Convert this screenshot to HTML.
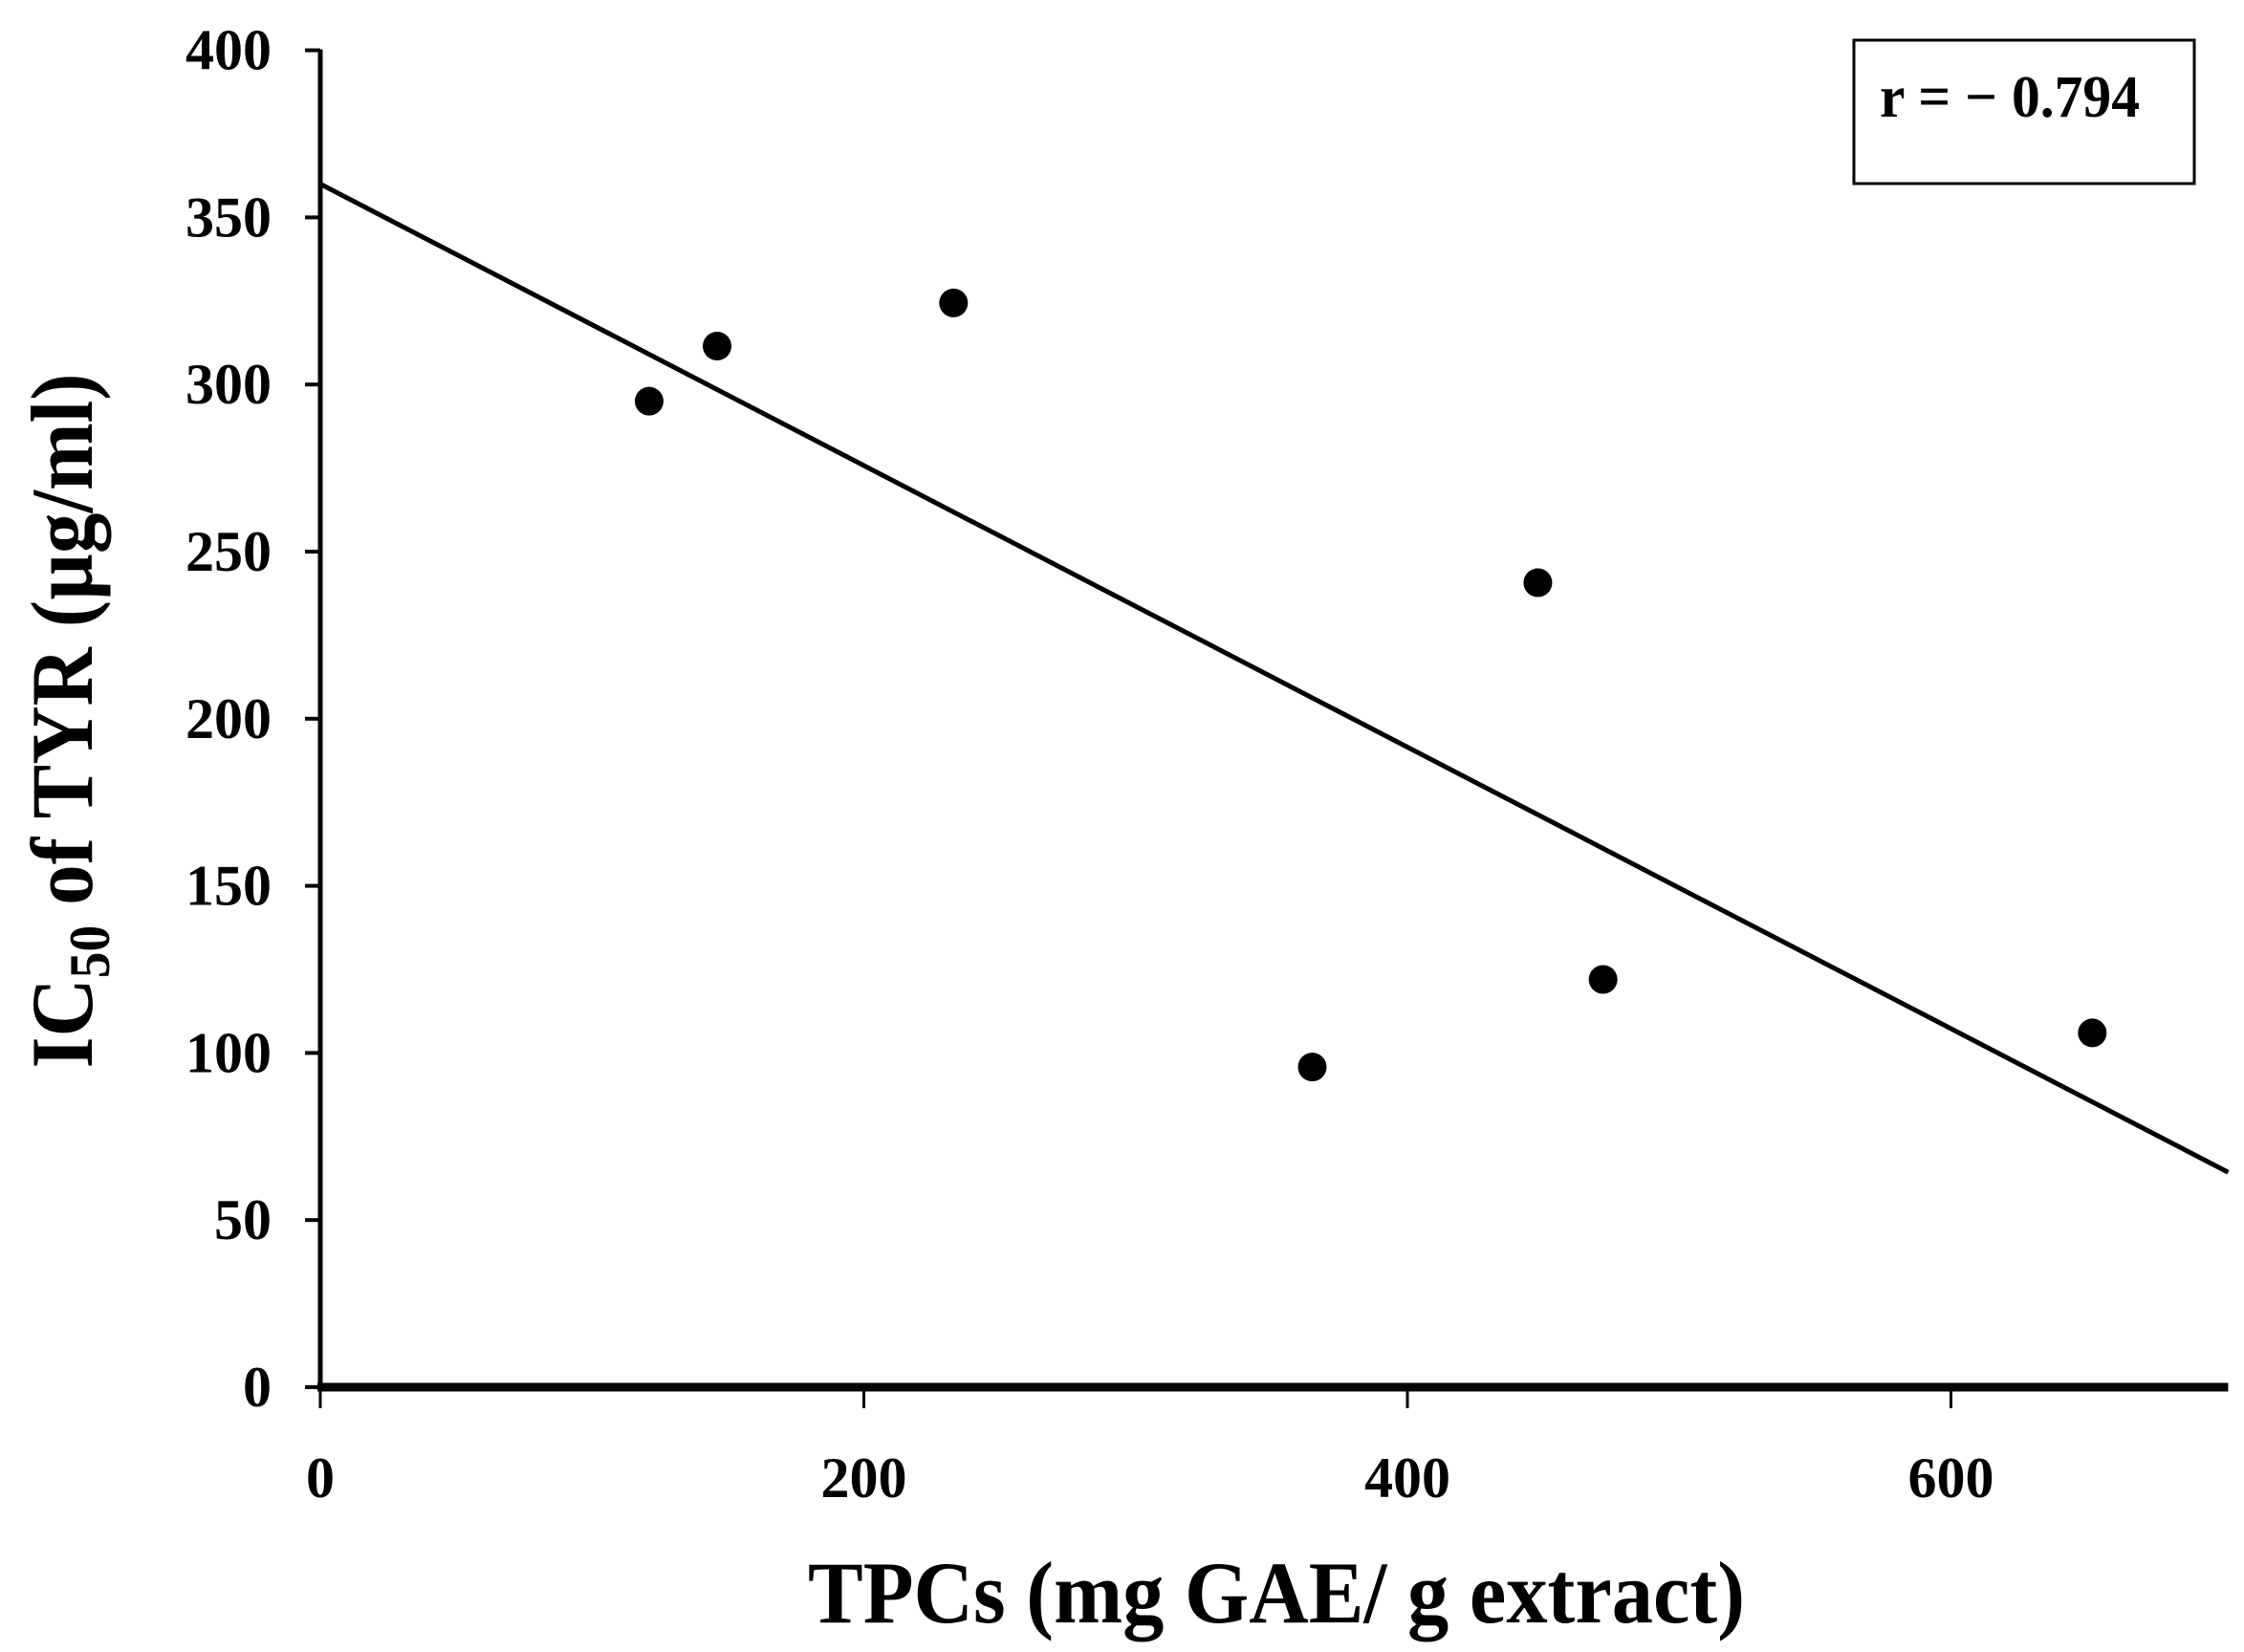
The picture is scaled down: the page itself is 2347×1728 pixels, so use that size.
<!DOCTYPE html>
<html><head><meta charset="utf-8"><style>html,body{margin:0;padding:0;background:#fff}svg{display:block}</style></head>
<body>
<svg id="chart" width="2347" height="1728" viewBox="0 0 2347 1728" xmlns="http://www.w3.org/2000/svg" font-family="'Liberation Serif', serif" font-weight="bold">
<g id="axes"></g>
<g id="marks"></g>
<g>
<rect x="1939" y="42" width="356" height="150" fill="#fff" stroke="#000" stroke-width="3"/>
<text x="1966" y="122" font-size="62" textLength="272" lengthAdjust="spacingAndGlyphs">r = − 0.794</text>
</g>
<text x="1335" y="1697" font-size="92" text-anchor="middle" textLength="980" lengthAdjust="spacingAndGlyphs">TPCs (mg GAE/ g extract)</text>
<text transform="translate(96,754) rotate(-90)" font-size="92" text-anchor="middle" textLength="727" lengthAdjust="spacingAndGlyphs">IC<tspan font-size="60" dy="18">50</tspan><tspan dy="-18"> of TYR (µg/ml)</tspan></text>
</svg>
<script>
const xTicks = [0, 200, 400, 600];
const yTicks = [0, 50, 100, 150, 200, 250, 300, 350, 400];
const tpc = [121, 146, 233, 448, 365, 472, 652];
const ic50 = [295, 311.5, 324.4, 240.7, 95.8, 122, 106];
const fitLine = [[0, 360], [702, 64.3]];
const xMax = 702;

const X0 = 335, XS = 568.5 / 200;
const Y0 = 1451, YS = 174.8 / 50;
const sx = v => X0 + v * XS;
const sy = v => Y0 - v * YS;
const NS = 'http://www.w3.org/2000/svg';
function mk(tag, attrs, parent) {
  const e = document.createElementNS(NS, tag);
  for (const k in attrs) e.setAttribute(k, attrs[k]);
  parent.appendChild(e);
  return e;
}
const axes = document.getElementById('axes');
const marks = document.getElementById('marks');

const ya = mk('line', {x1: X0, y1: sy(400) - 1, x2: X0, y2: Y0, stroke: '#000', 'stroke-width': 5}, axes);


const xa = mk('line', {x1: X0 - 3, y1: Y0, x2: sx(xMax), y2: Y0, stroke: '#000', 'stroke-width': 9}, axes);



yTicks.forEach(v => {
  const t = mk('line', {x1: X0 - 16, y1: sy(v), x2: X0, y2: sy(v), stroke: '#000', 'stroke-width': 4}, axes);
  
  
  const l = mk('text', {x: 284, y: sy(v) + 20, 'font-size': 60, 'text-anchor': 'end'}, axes);
  
  
  l.textContent = v;
});
xTicks.forEach(v => {
  const t = mk('line', {x1: sx(v), y1: Y0, x2: sx(v), y2: Y0 + 22, stroke: '#000', 'stroke-width': 3}, axes);
  
  
  const l = mk('text', {x: sx(v), y: 1566, 'font-size': 60, 'text-anchor': 'middle'}, axes);
  
  
  l.textContent = v;
});

const fl = mk('line', {x1: sx(fitLine[0][0]), y1: sy(fitLine[0][1]), x2: sx(fitLine[1][0]), y2: sy(fitLine[1][1]), stroke: '#000', 'stroke-width': 5}, marks);



tpc.forEach((v, i) => {
  const c = mk('circle', {cx: sx(v), cy: sy(ic50[i]), r: 15, fill: '#000'}, marks);
  
  
});
</script>
</body></html>
